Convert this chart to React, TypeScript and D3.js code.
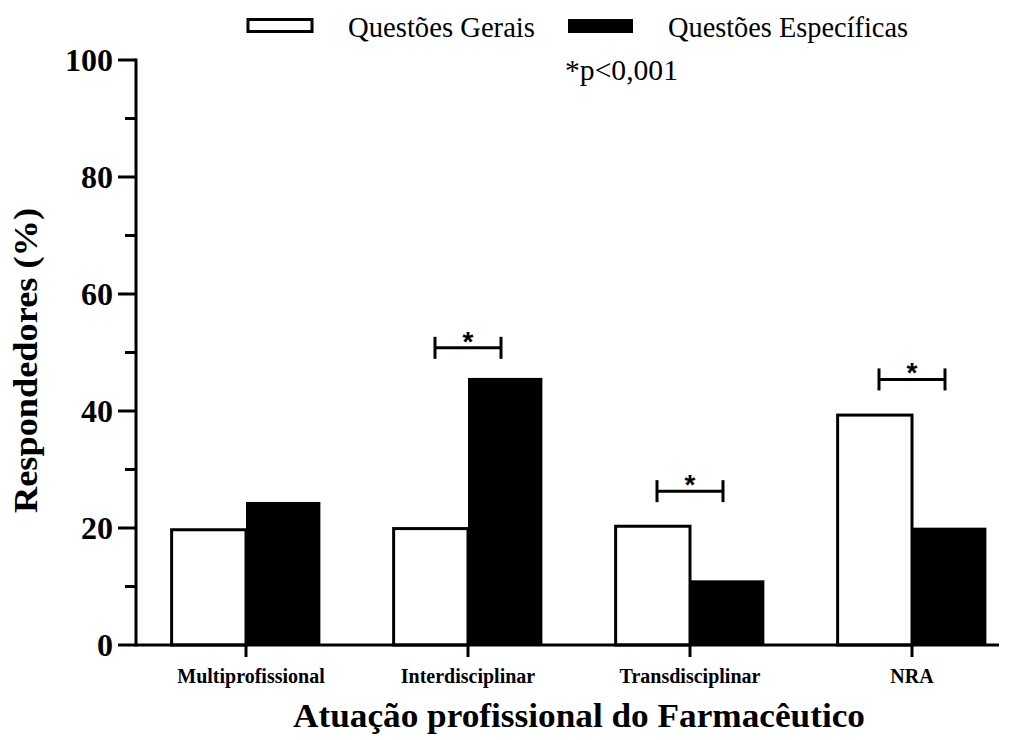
import React from "react";
import * as d3 from "d3";

const categories = ["Multiprofissional", "Interdisciplinar", "Transdisciplinar", "NRA"];
const series = ["Questões Gerais", "Questões Específicas"];
const gerais = [19.7, 19.9, 20.3, 39.3];
const especificas = [24.2, 45.4, 10.8, 19.8];
const significance: (number | null)[] = [null, 50.8, 26.3, 45.4];
const majorTicks = [0, 20, 40, 60, 80, 100];
const minorTicks = [10, 30, 50, 70, 90];

const W = 1012;
const H = 740;
const serif = "'Liberation Serif', 'Times New Roman', serif";
const sans = "'Liberation Sans', Arial, sans-serif";

export default function App() {
  const y = d3.scaleLinear().domain([0, 100]).range([645, 60]);
  const x0 = d3
    .scaleBand<string>()
    .domain(categories)
    .range([135, 1023])
    .paddingInner(0.33)
    .paddingOuter(0.165);
  const x1 = d3.scaleBand<string>().domain(series).range([0, x0.bandwidth()]);
  const axisLeft = 136;
  const axisRight = 999;
  const sw = 3;

  return (
    <svg
      width={W}
      height={H}
      style={{ position: "absolute", left: 0, top: 0, background: "#fff" }}
    >
      {/* Legend */}
      <rect x={248} y={19.5} width={64} height={12} fill="#fff" stroke="#000" strokeWidth={sw} />
      <text x={348} y={36.5} fontFamily={serif} fontSize={29} textLength={187} lengthAdjust="spacingAndGlyphs">
        {series[0]}
      </text>
      <rect x={568} y={19} width={65} height={14} fill="#000" />
      <text x={668} y={36.5} fontFamily={serif} fontSize={29} textLength={240} lengthAdjust="spacingAndGlyphs">
        {series[1]}
      </text>
      <text x={565} y={80} fontFamily={serif} fontSize={29} textLength={113} lengthAdjust="spacingAndGlyphs">
        *p&lt;0,001
      </text>

      {/* Bars */}
      {categories.map((c, i) => {
        const bx = x0(c)!;
        return (
          <g key={c}>
            <rect
              x={bx + x1(series[0])!}
              y={y(gerais[i])}
              width={x1.bandwidth()}
              height={y(0) - y(gerais[i])}
              fill="#fff"
              stroke="#000"
              strokeWidth={sw}
            />
            <rect
              x={bx + x1(series[1])!}
              y={y(especificas[i]) - 1.5}
              width={x1.bandwidth()}
              height={y(0) - y(especificas[i]) + 1.5}
              fill="#000"
            />
          </g>
        );
      })}

      {/* Significance brackets */}
      {categories.map((c, i) => {
        const s = significance[i];
        if (s == null) return null;
        const cx = x0(c)! + x0.bandwidth() / 2;
        const by = y(s);
        return (
          <g key={"sig" + c} stroke="#000" strokeWidth={sw}>
            <line x1={cx - 33} x2={cx + 33} y1={by} y2={by} />
            <line x1={cx - 33} x2={cx - 33} y1={by - 11} y2={by + 11} />
            <line x1={cx + 33} x2={cx + 33} y1={by - 11} y2={by + 11} />
            <text
              x={cx}
              y={by + 3}
              textAnchor="middle"
              fontFamily={sans}
              fontWeight="bold"
              fontSize={28}
              stroke="none"
              fill="#000"
            >
              *
            </text>
          </g>
        );
      })}

      {/* Y axis */}
      <line x1={axisLeft} x2={axisLeft} y1={y(100) - 1.5} y2={y(0) + 1.5} stroke="#000" strokeWidth={sw} />
      {majorTicks.map((t) => (
        <g key={"mj" + t}>
          <line x1={118} x2={axisLeft} y1={y(t)} y2={y(t)} stroke="#000" strokeWidth={sw} />
          <text
            x={113}
            y={y(t) + 11}
            textAnchor="end"
            fontFamily={serif}
            fontWeight="bold"
            fontSize={32}
          >
            {t}
          </text>
        </g>
      ))}
      {minorTicks.map((t) => (
        <line key={"mn" + t} x1={125} x2={axisLeft} y1={y(t)} y2={y(t)} stroke="#000" strokeWidth={sw} />
      ))}
      <text
        transform={`translate(37,360.5) rotate(-90)`}
        textAnchor="middle"
        fontFamily={serif}
        fontWeight="bold"
        fontSize={34}
        textLength={305}
        lengthAdjust="spacingAndGlyphs"
      >
        Respondedores (%)
      </text>

      {/* X axis */}
      <line x1={axisLeft} x2={axisRight} y1={y(0)} y2={y(0)} stroke="#000" strokeWidth={sw} />
      {categories.map((c) => {
        const cx = x0(c)! + x0.bandwidth() / 2;
        return (
          <g key={"xt" + c}>
            <line x1={cx} x2={cx} y1={y(0)} y2={y(0) + 12} stroke="#000" strokeWidth={sw} />
            <text
              x={cx + (c === "Multiprofissional" ? 5 : 0)}
              y={682.5}
              textAnchor="middle"
              fontFamily={serif}
              fontWeight="bold"
              fontSize={20}
            >
              {c}
            </text>
          </g>
        );
      })}
      <text
        x={579}
        y={727}
        textAnchor="middle"
        fontFamily={serif}
        fontWeight="bold"
        fontSize={33}
        textLength={572}
        lengthAdjust="spacingAndGlyphs"
      >
        Atuação profissional do Farmacêutico
      </text>
    </svg>
  );
}
